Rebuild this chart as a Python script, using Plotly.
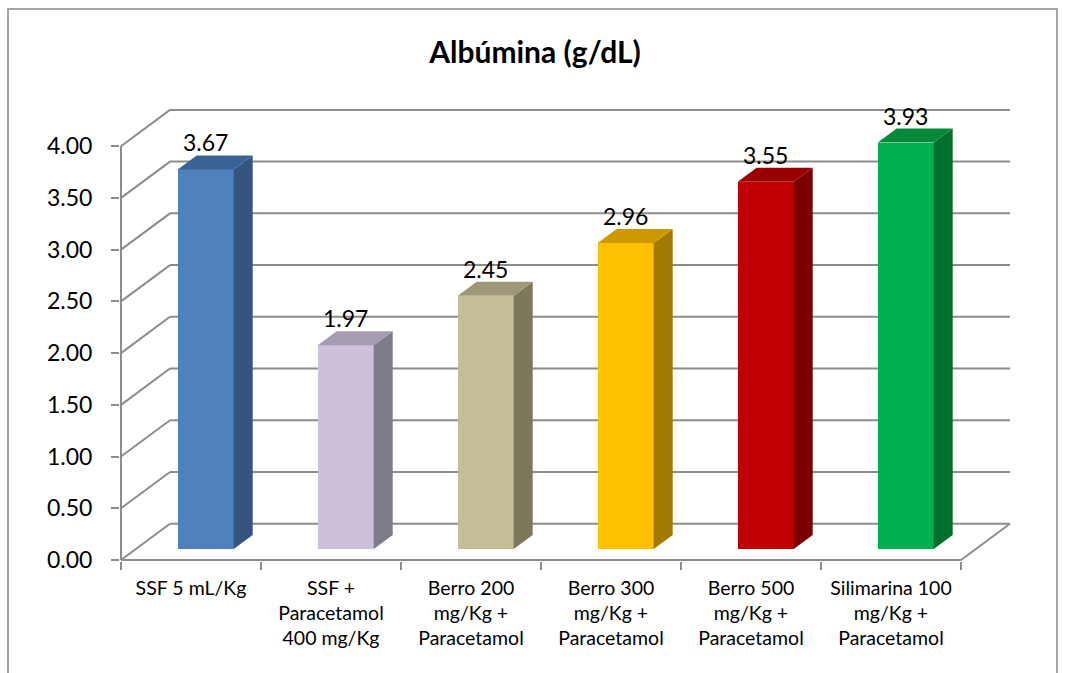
import plotly.graph_objects as go

# ---------------- data ----------------
categories = [
    "SSF 5 mL/Kg",
    "SSF +<br>Paracetamol<br>400 mg/Kg",
    "Berro 200<br>mg/Kg +<br>Paracetamol",
    "Berro 300<br>mg/Kg +<br>Paracetamol",
    "Berro 500<br>mg/Kg +<br>Paracetamol",
    "Silimarina 100<br>mg/Kg +<br>Paracetamol",
]
values = [3.67, 1.97, 2.45, 2.96, 3.55, 3.93]
value_labels = ["3.67", "1.97", "2.45", "2.96", "3.55", "3.93"]
y_ticks = [0, 0.5, 1.0, 1.5, 2.0, 2.5, 3.0, 3.5, 4.0]
y_tick_labels = ["0.00", "0.50", "1.00", "1.50", "2.00", "2.50", "3.00", "3.50", "4.00"]

# ---------------- styles ----------------
front_colors = ["#4F81BD", "#CCC0DA", "#C4BD97", "#FFC000", "#C00000", "#00B050"]
side_colors = ["#34557E", "#7F7A8A", "#7D785C", "#A37A00", "#7A0000", "#00702F"]
top_colors = ["#3B6295", "#A69CB1", "#9E9878", "#CC9900", "#9A0000", "#008A3C"]
GRID = "#8C8C8C"
FONT = "Lato, 'Open Sans', sans-serif"

# pixel geometry of the oblique projection
PX_X = 140.0      # px per category
PX_Y = 103.45     # px per unit value
W, H = 1065, 673
L, R, T, B = 120, 53, 95, 112
x0 = -0.5 - 1 / PX_X
x1 = x0 + (W - L - R) / PX_X
y0 = -1 / PX_Y
y1 = y0 + (H - T - B) / PX_Y

DX, DY = 49 / PX_X, 36.3 / PX_Y          # full depth offset of the walls
BF = 0.30                                # bar front-plane depth fraction
BDX, BDY = 19 / PX_X, 14 / PX_Y          # bar depth
BW = 0.40                                # bar width
n = len(categories)
x_left, x_right = -0.5, n - 0.5

fig = go.Figure()

# ---------------- walls / gridlines (shapes below traces) ----------------
shapes = []
line_style = dict(color=GRID, width=2)
for v in y_ticks:
    shapes.append(dict(type="line", xref="x", yref="y", layer="below",
                       x0=x_left + DX, y0=v + DY, x1=x_right + DX, y1=v + DY, line=line_style))
    shapes.append(dict(type="line", xref="x", yref="y", layer="below",
                       x0=x_left, y0=v, x1=x_left + DX, y1=v + DY, line=line_style))
shapes.append(dict(type="line", xref="x", yref="y", layer="below",
                   x0=x_left, y0=0, x1=x_right, y1=0, line=line_style))
shapes.append(dict(type="line", xref="x", yref="y", layer="below",
                   x0=x_right, y0=0, x1=x_right + DX, y1=DY, line=line_style))
shapes.append(dict(type="line", xref="x", yref="y", layer="below",
                   x0=x_left, y0=0, x1=x_left, y1=y_ticks[-1], line=line_style))
# outer chart border
bx0 = (8 - L) / (W - L - R)
bx1 = (1057 - L) / (W - L - R)
by1 = (H - B - 9) / (H - T - B)
by0 = (H - B - 700) / (H - T - B)
shapes.append(dict(type="rect", xref="paper", yref="paper", layer="below",
                   x0=bx0, x1=bx1, y0=by0, y1=by1,
                   line=dict(color="#868686", width=1.5), fillcolor="rgba(0,0,0,0)"))

# ---------------- bars ----------------
base = BF * DY
xc = [i + BF * DX for i in range(n)]
fig.add_trace(go.Bar(
    x=xc, y=values, base=base, width=BW,
    marker=dict(color=front_colors, line=dict(width=0)),
    hoverinfo="skip", showlegend=False,
))
for i, v in enumerate(values):
    xl, xr = xc[i] - BW / 2, xc[i] + BW / 2
    top = v + base
    fig.add_trace(go.Scatter(
        x=[xr, xr + BDX, xr + BDX, xr, xr],
        y=[base, base + BDY, top + BDY, top, base],
        mode="lines", fill="toself", fillcolor=side_colors[i],
        line=dict(width=0), hoverinfo="skip", showlegend=False,
    ))
    fig.add_trace(go.Scatter(
        x=[xl, xr, xr + BDX, xl + BDX, xl],
        y=[top, top, top + BDY, top + BDY, top],
        mode="lines", fill="toself", fillcolor=top_colors[i],
        line=dict(width=0), hoverinfo="skip", showlegend=False,
    ))

annotations = []
for i, v in enumerate(values):
    annotations.append(dict(
        x=xc[i], y=v + base + BDY, xref="x", yref="y",
        text=value_labels[i], showarrow=False, yanchor="middle", yshift=13,
        font=dict(family=FONT, size=23, color="black"),
    ))

fig.update_layout(
    width=W, height=H,
    margin=dict(l=L, r=R, t=T, b=B, pad=0),
    paper_bgcolor="white", plot_bgcolor="white",
    shapes=shapes, annotations=annotations,
    title=dict(text="<b>Albúmina (g/dL)</b>", x=535 / W, xref="container",
               y=1 - 52 / H, yref="container", xanchor="center", yanchor="middle",
               font=dict(family=FONT, size=30, color="black")),
    xaxis=dict(range=[x0, x1], tickmode="array", tickvals=list(range(n)), ticktext=categories,
               ticks="", showgrid=False, zeroline=False, showline=False,
               tickfont=dict(family=FONT, size=19.5, color="black"),
               ticklabelstandoff=13,
               minor=dict(tickmode="linear", tick0=-0.5, dtick=1, ticks="outside",
                          ticklen=8, tickwidth=2, tickcolor=GRID, showgrid=False)),
    yaxis=dict(range=[y0, y1], tickmode="array", tickvals=y_ticks, ticktext=y_tick_labels,
               ticks="outside", ticklen=8, tickwidth=2, tickcolor=GRID,
               showgrid=False, zeroline=False, showline=False,
               tickfont=dict(family=FONT, size=23, color="black"),
               ticklabelstandoff=14),
    bargap=0,
)

fig.write_html("out.html", config={"displayModeBar": False},
               post_script="document.body.style.margin='0';")
